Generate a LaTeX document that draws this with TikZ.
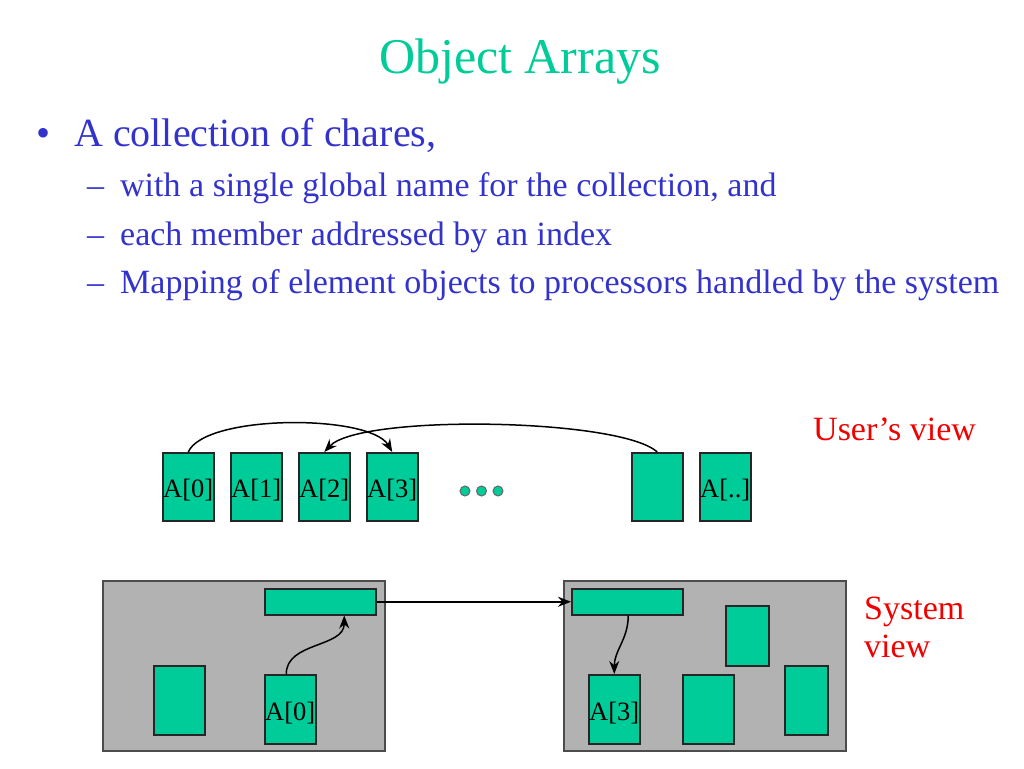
\documentclass[tikz,border=0pt]{standalone}
\usepackage{fontspec}
\setmainfont{Liberation Serif}
\usetikzlibrary{arrows.meta}
\definecolor{objgreen}{HTML}{00CC99}
\definecolor{txtblue}{HTML}{3333CC}
\definecolor{procgray}{HTML}{B2B2B2}
\definecolor{lblred}{HTML}{F00000}
\tikzset{
  obj/.style={draw=black!85, fill=objgreen, line width=1.5pt, inner sep=0pt, anchor=north west,
    font=\fontsize{26.5}{28}\selectfont, text height=22pt, text depth=0pt},
  proc/.style={draw=black!70, fill=procgray, line width=1.5pt, inner sep=0pt, anchor=north west},
  dot/.style={circle, draw=black!60, fill=objgreen, line width=1pt, minimum size=10pt, inner sep=0pt},
  conn/.style={line width=1.5pt, -{Stealth[length=13pt,width=10pt]}},
}
\begin{document}
\begin{tikzpicture}[x=1pt,y=-1pt]
\useasboundingbox (0,0) rectangle (1024,768);
% title and text
\node[anchor=base, text=objgreen, font=\fontsize{50}{56}\selectfont, inner sep=0pt] (title) at (520,74) {Object Arrays};
\node[anchor=base west, text=txtblue, font=\fontsize{40}{44}\selectfont, inner sep=0pt] (b1) at (36,146) {\textbullet};
\node[anchor=base west, text=txtblue, font=\fontsize{40}{44}\selectfont, inner sep=0pt] (t1) at (74,146) {A collection of chares,};
\node[anchor=base west, text=txtblue, font=\fontsize{34}{38}\selectfont, inner sep=0pt] (d2) at (87,196) {--};
\node[anchor=base west, text=txtblue, font=\fontsize{34}{38}\selectfont, inner sep=0pt] (t2) at (120,196) {with a single global name for the collection, and};
\node[anchor=base west, text=txtblue, font=\fontsize{34}{38}\selectfont, inner sep=0pt] (d3) at (87,245) {--};
\node[anchor=base west, text=txtblue, font=\fontsize{34}{38}\selectfont, inner sep=0pt] (t3) at (120,245) {each member addressed by an index};
\node[anchor=base west, text=txtblue, font=\fontsize{34}{38}\selectfont, inner sep=0pt] (d4) at (87,293) {--};
\node[anchor=base west, text=txtblue, font=\fontsize{34}{38}\selectfont, inner sep=0pt] (t4) at (120,293) {Mapping of element objects to processors handled by the system};
% view labels
\node[anchor=base west, text=lblred, font=\fontsize{34}{38}\selectfont, inner sep=0pt] (uv) at (813,440) {User’s view};
\node[anchor=base west, text=lblred, font=\fontsize{34}{38}\selectfont, inner sep=0pt] (sv1) at (864,619) {System};
\node[anchor=base west, text=lblred, font=\fontsize{34}{38}\selectfont, inner sep=0pt] (sv2) at (864,657) {view};
% top row
\node[obj, minimum width=51pt, minimum height=68pt] (a0) at (162,452) {A[0]};
\node[obj, minimum width=51pt, minimum height=68pt] (a1) at (230,452) {A[1]};
\node[obj, minimum width=51pt, minimum height=68pt] (a2) at (298,452) {A[2]};
\node[obj, minimum width=51pt, minimum height=68pt] (a3) at (366,452) {A[3]};
\node[obj, minimum width=51pt, minimum height=68pt] (ax) at (631,452) {};
\node[obj, minimum width=51pt, minimum height=68pt] (an) at (699,452) {A[..]};
\node[dot] (p1) at (465,491) {};
\node[dot] (p2) at (481.5,491) {};
\node[dot] (p3) at (498,491) {};
\draw[conn] (a0.north) .. controls (205,414) and (370,414) .. (a3.north);
\draw[conn] (ax.north) .. controls (620,418) and (360,414) .. (a2.north);
% system view
\node[proc, minimum width=282pt, minimum height=170pt] (pl) at (102,580) {};
\node[proc, minimum width=282pt, minimum height=170pt] (pr) at (563,580) {};
\node[obj, minimum width=111pt, minimum height=26pt] (barl) at (264,588) {};
\node[obj, minimum width=51pt, minimum height=69pt] (ql) at (153,665) {};
\node[obj, minimum width=51pt, minimum height=69pt] (l0) at (264,674) {A[0]};
\node[obj, minimum width=111pt, minimum height=26pt] (barr) at (571,588) {};
\node[obj, minimum width=43pt, minimum height=60pt] (r1) at (725,605) {};
\node[obj, minimum width=51pt, minimum height=69pt] (r3) at (588,674) {A[3]};
\node[obj, minimum width=51pt, minimum height=69pt] (r4) at (682,674) {};
\node[obj, minimum width=43pt, minimum height=69pt] (r5) at (784,665) {};
\draw[conn] (barl.east) -- (barr.west);
\draw[conn] ([xshift=-4pt]l0.north) to[out=90,in=-90] ([xshift=24pt]barl.south);
\draw[conn] ([xshift=1pt]barr.south) to[out=-90,in=90] (r3.north);
\end{tikzpicture}
\end{document}
